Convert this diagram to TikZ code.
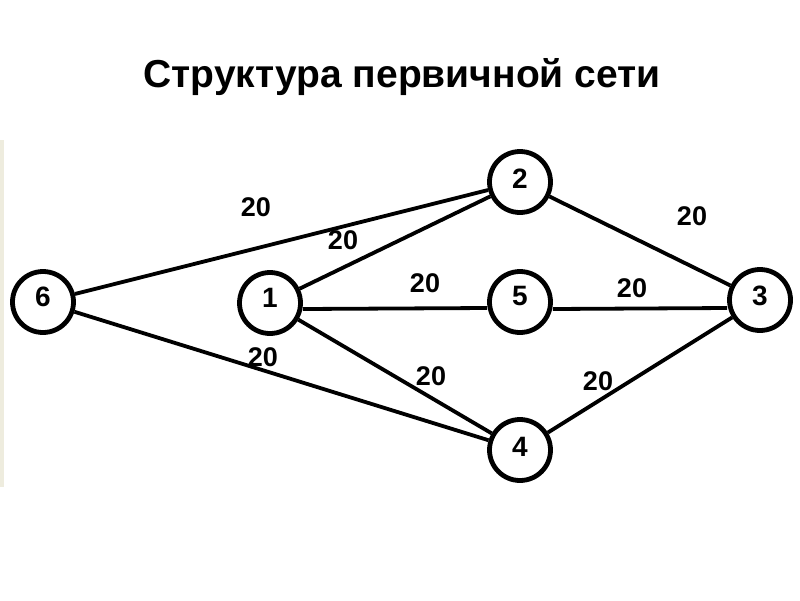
\documentclass[tikz,border=0pt]{standalone}
\usepackage{fontspec}
\setmainfont{Liberation Sans}
\definecolor{strip}{RGB}{238,236,222}
\begin{document}
\begin{tikzpicture}[x=1pt,y=-1pt,
  vert/.style={circle,draw=black,line width=4.8pt,fill=white,minimum size=61pt,inner sep=0pt},
  dig/.style={inner sep=0pt,font=\bfseries\fontsize{28}{28}\selectfont},
  edge/.style={line width=3.8pt,black},
  lbl/.style={inner sep=0pt,font=\bfseries\fontsize{27}{27}\selectfont}]
\useasboundingbox (0,0) rectangle (800,600);
\fill[white] (0,0) rectangle (800,600);
\fill[strip] (0,140) rectangle (4,487);
\node[font=\bfseries\fontsize{39}{39}\selectfont] (title) at (402,77) {Структура первичной сети};
\node[vert] (n6) at (43,302) {};
\node[vert] (n1) at (270,303) {};
\node[vert] (n2) at (520,182) {};
\node[vert] (n5) at (520,302) {};
\node[vert] (n3) at (760,300) {};
\node[vert] (n4) at (520,450) {};
\draw[edge] (n6) -- (n2);
\draw[edge] (n6) -- (n4);
\draw[edge] (n1) -- (n2);
\draw[edge] ([yshift=-6pt]n1.east) -- ([yshift=-6pt]n5.west);
\draw[edge] (n1) -- (n4);
\draw[edge] ([yshift=-7pt]n5.east) -- ([yshift=-8pt]n3.west);
\draw[edge] (n2) -- (n3);
\draw[edge] (n4) -- (n3);
\node[dig] (d6) at ([yshift=5pt]n6.center) {6};
\node[dig] (d1) at ([yshift=5pt]n1.center) {1};
\node[dig] (d2) at ([yshift=3pt]n2.center) {2};
\node[dig] (d5) at ([yshift=6pt]n5.center) {5};
\node[dig] (d3) at ([yshift=4pt]n3.center) {3};
\node[dig] (d4) at ([yshift=3pt]n4.center) {4};
\node[lbl] (l62) at (256,207) {20};
\node[lbl] (l12) at (343,240) {20};
\node[lbl] (l15) at (425,283) {20};
\node[lbl] (l53) at (632,288) {20};
\node[lbl] (l23) at (692,216) {20};
\node[lbl] (l64) at (263,357) {20};
\node[lbl] (l14) at (431,376) {20};
\node[lbl] (l43) at (598,381) {20};
\end{tikzpicture}
\end{document}
